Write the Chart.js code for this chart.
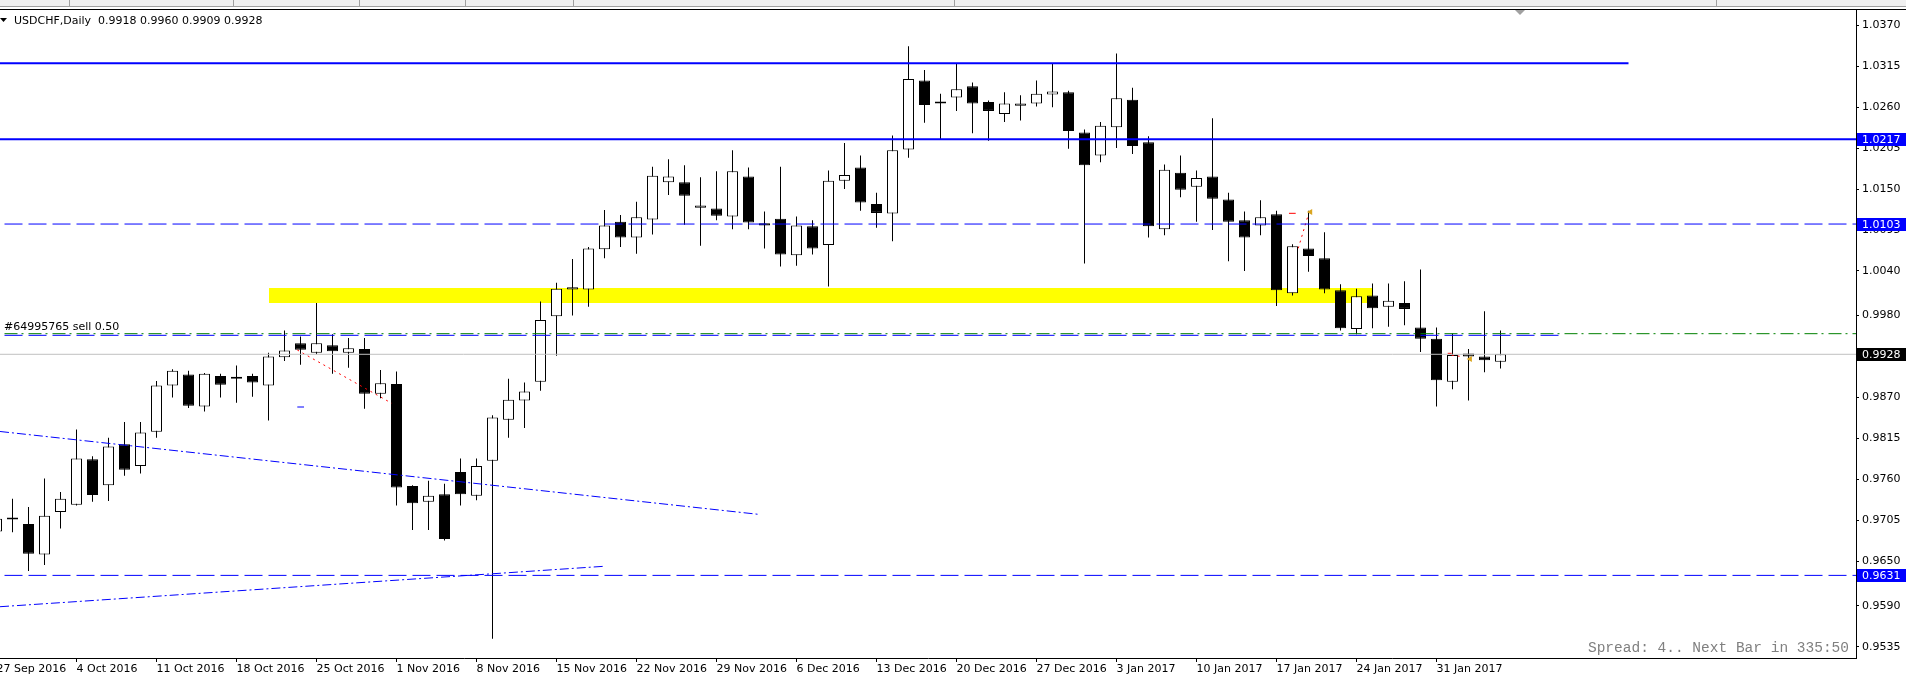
<!DOCTYPE html>
<html lang="en">
<head>
<meta charset="UTF-8">
<title>USDCHF,Daily</title>
<script src="https://cdn.jsdelivr.net/npm/chart.js"></script>
<style>
  html, body { margin: 0; padding: 0; background: #fff; overflow: hidden; }
  #wrap { position: relative; width: 1906px; height: 680px; }
</style>
</head>
<body>
<div id="wrap"><canvas id="grafico" width="1906" height="680"></canvas></div>
<script>
// daily bars, bar index 0 = 28 Sep 2016 (first one is the cut-off 27 Sep bar)
var firstBar = -1;
var opens = [
  0.9690, 0.9706, 0.9700, 0.9659, 0.9716, 0.9726, 0.9787, 0.9752, 0.9807, 0.9778,
  0.9824, 0.9886, 0.9901, 0.9858, 0.9899, 0.9897, 0.9899, 0.9886, 0.9924, 0.9943,
  0.9930, 0.9940, 0.9930, 0.9935, 0.9875, 0.9888, 0.9751, 0.9730, 0.9740, 0.9770,
  0.9738, 0.9785, 0.9840, 0.9866, 0.9891, 0.9979, 1.0015, 1.0015, 1.0069, 1.0106,
  1.0085, 1.0109, 1.0159, 1.0159, 1.0125, 1.0124, 1.0113, 1.0167, 1.0104, 1.0110,
  1.0061, 1.0100, 1.0075, 1.0161, 1.0179, 1.0130, 1.0117, 1.0203, 1.0296, 1.0267,
  1.0273, 1.0288, 1.0267, 1.0251, 1.0262, 1.0265, 1.0277, 1.0280, 1.0226, 1.0195,
  1.0233, 1.0270, 1.0213, 1.0096, 1.0172, 1.0153, 1.0167, 1.0136, 1.0108, 1.0101,
  1.0116, 1.0010, 1.0070, 1.0057, 1.0014, 0.9962, 1.0007, 0.9992, 0.9997, 0.9964,
  0.9949, 0.9891, 0.9929, 0.9925, 0.9918
];
var highs = [
  0.9712, 0.9734, 0.9723, 0.9761, 0.9743, 0.9827, 0.9791, 0.9816, 0.9837, 0.9837,
  0.9892, 0.9908, 0.9906, 0.9903, 0.9902, 0.9913, 0.9902, 0.9930, 0.9960, 0.9952,
  0.9997, 0.9955, 0.9950, 0.9950, 0.9907, 0.9905, 0.9752, 0.9758, 0.9754, 0.9788,
  0.9788, 0.9846, 0.9895, 0.9890, 0.9999, 1.0024, 1.0056, 1.0072, 1.0122, 1.0115,
  1.0133, 1.0180, 1.0190, 1.0182, 1.0166, 1.0174, 1.0202, 1.0179, 1.0120, 1.0180,
  1.0113, 1.0108, 1.0175, 1.0212, 1.0195, 1.0145, 1.0222, 1.0342, 1.0310, 1.0278,
  1.0319, 1.0293, 1.0269, 1.0280, 1.0276, 1.0296, 1.0319, 1.0282, 1.0230, 1.0240,
  1.0332, 1.0286, 1.0221, 1.0183, 1.0195, 1.0175, 1.0245, 1.0145, 1.0120, 1.0135,
  1.0121, 1.0076, 1.0121, 1.0092, 1.0022, 1.0016, 1.0023, 1.0023, 1.0026, 1.0042,
  0.9964, 0.9956, 0.9935, 0.9986, 0.9960
];
var lows = [
  0.9685, 0.9689, 0.9637, 0.9645, 0.9694, 0.9725, 0.9730, 0.9731, 0.9765, 0.9768,
  0.9816, 0.9870, 0.9856, 0.9851, 0.9870, 0.9863, 0.9871, 0.9839, 0.9919, 0.9914,
  0.9928, 0.9902, 0.9910, 0.9855, 0.9869, 0.9725, 0.9692, 0.9692, 0.9678, 0.9725,
  0.9732, 0.9546, 0.9816, 0.9829, 0.9879, 0.9926, 0.9980, 0.9992, 1.0057, 1.0072,
  1.0063, 1.0089, 1.0142, 1.0102, 1.0074, 1.0108, 1.0096, 1.0096, 1.0070, 1.0046,
  1.0047, 1.0062, 1.0019, 1.0150, 1.0121, 1.0098, 1.0080, 1.0192, 1.0239, 1.0217,
  1.0255, 1.0225, 1.0215, 1.0240, 1.0242, 1.0261, 1.0260, 1.0204, 1.0050, 1.0186,
  1.0205, 1.0197, 1.0085, 1.0088, 1.0139, 1.0106, 1.0095, 1.0053, 1.0040, 1.0088,
  0.9993, 1.0007, 1.0039, 1.0010, 0.9960, 0.9955, 0.9963, 0.9965, 0.9967, 0.9931,
  0.9858, 0.9881, 0.9866, 0.9904, 0.9909
];
var closes = [
  0.9707, 0.9707, 0.9660, 0.9711, 0.9734, 0.9788, 0.9739, 0.9804, 0.9773, 0.9823,
  0.9886, 0.9906, 0.9859, 0.9902, 0.9887, 0.9895, 0.9890, 0.9925, 0.9933, 0.9934,
  0.9943, 0.9932, 0.9936, 0.9875, 0.9889, 0.9749, 0.9728, 0.9738, 0.9680, 0.9740,
  0.9778, 0.9843, 0.9867, 0.9878, 0.9974, 1.0016, 1.0018, 1.0070, 1.0101, 1.0085,
  1.0112, 1.0168, 1.0167, 1.0141, 1.0128, 1.0114, 1.0174, 1.0105, 1.0101, 1.0062,
  1.0101, 1.0070, 1.0161, 1.0169, 1.0132, 1.0118, 1.0202, 1.0298, 1.0263, 1.0265,
  1.0284, 1.0265, 1.0255, 1.0265, 1.0265, 1.0278, 1.0281, 1.0228, 1.0182, 1.0235,
  1.0272, 1.0208, 1.0100, 1.0176, 1.0149, 1.0165, 1.0137, 1.0106, 1.0085, 1.0112,
  1.0014, 1.0073, 1.0060, 1.0015, 0.9963, 1.0006, 0.9990, 1.0000, 0.9989, 0.9949,
  0.9893, 0.9927, 0.9925, 0.9920, 0.9928
];

// date axis (bar index of each weekly label)
var tickBars = [-1, 4, 9, 14, 19, 24, 29, 34, 39, 44, 49, 54, 59, 64, 69, 74, 79, 84, 89];
var tickLabels = ['27 Sep 2016', '4 Oct 2016', '11 Oct 2016', '18 Oct 2016', '25 Oct 2016',
  '1 Nov 2016', '8 Nov 2016', '15 Nov 2016', '22 Nov 2016', '29 Nov 2016', '6 Dec 2016',
  '13 Dec 2016', '20 Dec 2016', '27 Dec 2016', '3 Jan 2017', '10 Jan 2017', '17 Jan 2017',
  '24 Jan 2017', '31 Jan 2017'];
var priceTicks = [1.0370, 1.0315, 1.0260, 1.0205, 1.0150, 1.0095, 1.0040, 0.9980, 0.9925,
  0.9870, 0.9815, 0.9760, 0.9705, 0.9650, 0.9590, 0.9535];

// horizontal objects: price, last bar reached
var levelPrices = [1.0319, 1.0217, 1.0103, 0.99535, 0.99557, 0.9928, 0.9631];
var levelEnds = [101, 130, 130, 97, 130, 130, 130];
var levelStyles = [
  { color: '#0000FF', width: 2, dash: [] },
  { color: '#0000FF', width: 2, dash: [] },
  { color: '#0000FF', width: 1, dash: [18, 6] },
  { color: '#0000FF', width: 1, dash: [18, 6] },
  { color: '#008000', width: 1, dash: [13, 4, 2, 5] },
  { color: '#C0C0C0', width: 1, dash: [] },
  { color: '#0000FF', width: 1, dash: [18, 6] }
];
var axisMarks = [1.0217, 1.0103, 0.9928, 0.9631];
var axisMarkColors = ['#0000FF', '#0000FF', '#000000', '#0000FF'];

// trend lines: [bar, price] -> [bar, price]
var trendStarts = [[-0.78, 0.98243], [-0.78, 0.95889]];
var trendEnds = [[46.63, 0.97130], [36.97, 0.96432]];

// yellow zone
var zoneBars = [16, 85];
var zonePrices = [0.9997, 1.0017];

// trade history marks
var tradePaths = [
  [[17.8, 0.99338], [23.7, 0.98622]],
  [[80.36, 1.00704], [80.95, 1.01129]],
  [[89.95, 0.99267], [90.66, 0.99248]]
];
var tradeOpenMarks = [[[79.78, 1.01174], [80.2, 1.01174]], [[89.7, 0.99293], [89.95, 0.99293]]];
var stopMark = [[17.8, 0.98572], [18.22, 0.98572]];
var closeArrows = [[81.12, 1.01192], [91.1, 0.99217]];

var symbolText = 'USDCHF,Daily';
var orderText = '#64995765 sell 0.50';
var statusText = 'Spread: 4.. Next Bar in 335:50';

var xMin = -0.78125;
var xMax = 115.21875;
var yMin = 0.95200;
var yMax = 1.03919;

var wickData = [];
var bodyData = [];
var bodyColors = [];
for (var k = 0; k < opens.length; k++) {
  var idx = firstBar + k;
  wickData.push({ x: idx, y: [lows[k], highs[k]] });
  bodyData.push({ x: idx, y: [opens[k], closes[k]] });
  bodyColors.push(closes[k] >= opens[k] ? '#FFFFFF' : '#000000');
}

var datasets = [];
for (var i = 0; i < levelPrices.length; i++) {
  datasets.push({
    type: 'line', order: 0,
    data: [{ x: -2, y: levelPrices[i] }, { x: levelEnds[i], y: levelPrices[i] }],
    borderColor: levelStyles[i].color, borderWidth: levelStyles[i].width,
    borderDash: levelStyles[i].dash, pointRadius: 0, fill: false
  });
}
for (var t = 0; t < trendStarts.length; t++) {
  datasets.push({
    type: 'line', order: 0,
    data: [{ x: trendStarts[t][0], y: trendStarts[t][1] }, { x: trendEnds[t][0], y: trendEnds[t][1] }],
    borderColor: '#0000FF', borderWidth: 1, borderDash: [9, 3, 2, 3], pointRadius: 0, fill: false
  });
}
tradePaths.forEach(function (p) {
  datasets.push({
    type: 'line', order: 0,
    data: [{ x: p[0][0], y: p[0][1] }, { x: p[1][0], y: p[1][1] }],
    borderColor: '#FF0000', borderWidth: 1, borderDash: [2, 4], pointRadius: 0, fill: false
  });
});
tradeOpenMarks.forEach(function (p) {
  datasets.push({
    type: 'line', order: 0,
    data: [{ x: p[0][0], y: p[0][1] }, { x: p[1][0], y: p[1][1] }],
    borderColor: '#FF0000', borderWidth: 1, pointRadius: 0, fill: false
  });
});
datasets.push({
  type: 'line', order: 0,
  data: [{ x: stopMark[0][0], y: stopMark[0][1] }, { x: stopMark[1][0], y: stopMark[1][1] }],
  borderColor: '#0000FF', borderWidth: 1, pointRadius: 0, fill: false
});
datasets.push({
  type: 'line', order: 0, showLine: false,
  data: closeArrows.map(function (a) { return { x: a[0], y: a[1] }; }),
  pointStyle: 'triangle', pointRotation: -90, pointRadius: 3.5,
  pointBackgroundColor: '#DAA520', pointBorderWidth: 0
});
datasets.push({
  type: 'bar', order: 1, grouped: false,
  data: bodyData, backgroundColor: bodyColors, borderColor: '#000000',
  borderWidth: 1, borderSkipped: false, inflateAmount: 0,
  barThickness: 11, maxBarThickness: 11, minBarLength: 2
});
datasets.push({
  type: 'bar', order: 2, grouped: false,
  data: wickData, backgroundColor: '#000000', borderWidth: 0, inflateAmount: 0,
  barThickness: 1, maxBarThickness: 1
});

var mt4Overlay = {
  id: 'mt4Overlay',
  beforeDatasetsDraw: function (chart) {
    var ctx = chart.ctx, xs = chart.scales.x, ys = chart.scales.y, a = chart.chartArea;
    ctx.save();
    ctx.beginPath();
    ctx.rect(a.left, a.top, a.right - a.left, a.bottom - a.top);
    ctx.clip();
    var x1 = xs.getPixelForValue(zoneBars[0]), x2 = xs.getPixelForValue(zoneBars[1]);
    var y1 = ys.getPixelForValue(zonePrices[1]), y2 = ys.getPixelForValue(zonePrices[0]);
    ctx.fillStyle = '#FFFF00';
    ctx.fillRect(Math.round(x1), Math.round(y1), Math.round(x2 - x1), Math.round(y2 - y1));
    ctx.restore();
  },
  afterDraw: function (chart) {
    var ctx = chart.ctx, xs = chart.scales.x, ys = chart.scales.y, a = chart.chartArea;
    var W = chart.width;
    ctx.save();
    // toolbar remains + frame
    ctx.fillStyle = '#F0F0F0';
    ctx.fillRect(0, 0, W, 6);
    ctx.fillStyle = '#A0A0A0';
    ctx.fillRect(0, 6, W, 1);
    [69, 233, 359, 465, 573, 954, 1716].forEach(function (sx) { ctx.fillRect(sx, 0, 1, 6); });
    ctx.fillStyle = '#000000';
    ctx.fillRect(0, a.top, W, 1);
    // chart shift marker
    ctx.fillStyle = '#A0A0A0';
    ctx.beginPath();
    ctx.moveTo(1515, 10); ctx.lineTo(1525, 10); ctx.lineTo(1520, 15); ctx.closePath(); ctx.fill();

    // header
    var last = opens.length - 1;
    ctx.fillStyle = '#000000';
    ctx.beginPath();
    ctx.moveTo(0, 18); ctx.lineTo(7, 18); ctx.lineTo(3.5, 22); ctx.closePath(); ctx.fill();
    ctx.font = '11px "DejaVu Sans"';
    ctx.textBaseline = 'alphabetic';
    ctx.textAlign = 'left';
    ctx.fillText(symbolText + '  ' + opens[last].toFixed(4) + ' ' + highs[last].toFixed(4) + ' ' +
      lows[last].toFixed(4) + ' ' + closes[last].toFixed(4), 14, 24);
    ctx.fillText(orderText, 4, 330);

    // date labels whose bar is scrolled off the left edge
    ctx.textBaseline = 'middle';
    tickBars.forEach(function (b, n) {
      if (b < xMin) ctx.fillText(tickLabels[n], xs.getPixelForValue(b), a.bottom + 11);
    });

    // status text
    ctx.font = '14.5px "Liberation Mono"';
    ctx.fillStyle = '#808080';
    ctx.textAlign = 'right';
    ctx.textBaseline = 'alphabetic';
    ctx.fillText(statusText, 1849, 652);

    // price marks on the axis
    ctx.font = '11px "DejaVu Sans"';
    ctx.textAlign = 'left';
    ctx.textBaseline = 'middle';
    for (var m = 0; m < axisMarks.length; m++) {
      var py = Math.round(ys.getPixelForValue(axisMarks[m]));
      ctx.fillStyle = axisMarkColors[m];
      ctx.fillRect(a.right + 1, py - 6, W - a.right - 1, 13);
      ctx.fillStyle = '#FFFFFF';
      ctx.fillText(axisMarks[m].toFixed(4), a.right + 6, py + 1);
    }
    ctx.restore();
  }
};

Chart.defaults.font.family = '"DejaVu Sans"';
Chart.defaults.font.size = 11;
Chart.defaults.color = '#000000';

var chartEl = document.getElementById('grafico');
new Chart(chartEl, {
  type: 'bar',
  data: { datasets: datasets },
  options: {
    responsive: false,
    animation: false,
    devicePixelRatio: 1,
    layout: { autoPadding: false, padding: { top: 9, left: 0, right: 0, bottom: 0 } },
    plugins: { legend: { display: false }, tooltip: { enabled: false } },
    scales: {
      x: {
        type: 'linear',
        position: 'bottom',
        offset: false,
        min: xMin,
        max: xMax,
        afterBuildTicks: function (s) {
          s.ticks = tickBars.filter(function (v) { return v >= xMin; }).map(function (v) { return { value: v }; });
        },
        afterFit: function (s) { s.height = 22; s.paddingLeft = 0; s.paddingRight = 0; },
        ticks: {
          autoSkip: false, maxRotation: 0, align: 'start', padding: 1, color: '#000000',
          callback: function (v) { return tickLabels[tickBars.indexOf(v)]; }
        },
        grid: { offset: false, drawOnChartArea: false, drawTicks: true, tickLength: 4, color: '#000000' },
        border: { display: true, color: '#000000' }
      },
      y: {
        type: 'linear',
        position: 'right',
        min: yMin,
        max: yMax,
        afterBuildTicks: function (s) { s.ticks = priceTicks.map(function (v) { return { value: v }; }); },
        afterFit: function (s) { s.width = 50; s.paddingTop = 0; s.paddingBottom = 0; },
        ticks: {
          padding: 3, color: '#000000',
          callback: function (v) { return Number(v).toFixed(4); }
        },
        grid: { drawOnChartArea: false, drawTicks: true, tickLength: 3, color: '#000000' },
        border: { display: true, color: '#000000' }
      }
    }
  },
  plugins: [mt4Overlay]
});
</script>
</body>
</html>
